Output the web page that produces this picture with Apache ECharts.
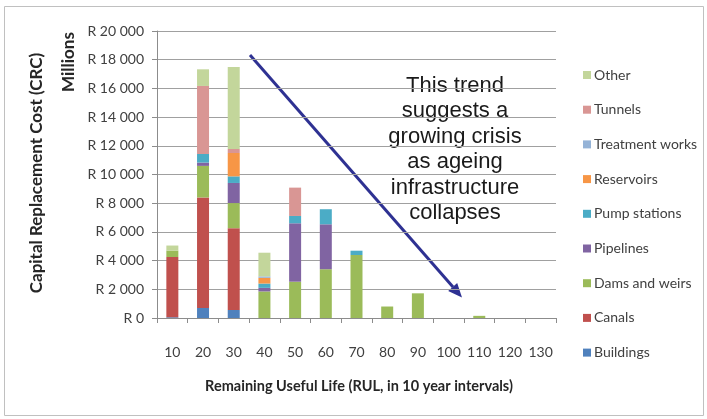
<!DOCTYPE html>
<html>
<head>
<meta charset="utf-8">
<script src="https://cdn.jsdelivr.net/npm/echarts@6/dist/echarts.min.js"></script>
<style>
html,body{margin:0;padding:0;background:#fff;}
#chart{width:707px;height:419px;}
</style>
</head>
<body>
<div id="chart"></div>
<script>
var categories = ['10','20','30','40','50','60','70','80','90','100','110','120','130'];
var buildings      = [50, 700, 560, 0, 0, 0, 0, 0, 0, 0, 0, 0, 0];
var canals         = [4200, 7700, 5700, 0, 0, 0, 0, 0, 0, 0, 0, 0, 0];
var damsAndWeirs   = [450, 2200, 1750, 1850, 2530, 3400, 4390, 800, 1720, 0, 150, 0, 0];
var pipelines      = [0, 230, 1400, 250, 4070, 3130, 0, 0, 0, 0, 0, 0, 0];
var pumpStations   = [0, 600, 460, 300, 510, 1050, 300, 0, 0, 0, 0, 0, 0];
var reservoirs     = [0, 0, 1630, 400, 0, 0, 0, 0, 0, 0, 0, 0, 0];
var treatmentWorks = [0, 0, 0, 100, 0, 0, 0, 0, 0, 0, 0, 0, 0];
var tunnels        = [0, 4740, 280, 0, 1975, 0, 0, 0, 0, 0, 0, 0, 0];
var other          = [350, 1160, 5715, 1650, 0, 0, 0, 0, 0, 0, 0, 0, 0];
var yTicks = [0, 2000, 4000, 6000, 8000, 10000, 12000, 14000, 16000, 18000, 20000];

var seriesDefs = [
  ['Buildings', buildings, '#4F81BD'],
  ['Canals', canals, '#C0504D'],
  ['Dams and weirs', damsAndWeirs, '#9BBB59'],
  ['Pipelines', pipelines, '#8064A2'],
  ['Pump stations', pumpStations, '#4BACC6'],
  ['Reservoirs', reservoirs, '#F79646'],
  ['Treatment works', treatmentWorks, '#95B3D7'],
  ['Tunnels', tunnels, '#D99694'],
  ['Other', other, '#C3D69B']
];

var FONT = 'Lato, "Open Sans", sans-serif';
var chart = echarts.init(document.getElementById('chart'), null, {renderer:'canvas'});

function fmt(v){
  var s = String(v);
  return 'R ' + s.replace(/\B(?=(\d{3})+(?!\d))/g, ' ');
}

var option = {
  animation: false,
  backgroundColor: '#ffffff',
  grid: {left: 157, right: 151, top: 31, bottom: 101, containLabel: false},
  legend: {
    orient: 'vertical',
    left: 578,
    top: 63,
    itemWidth: 8,
    itemHeight: 8,
    itemGap: 20.7,
    icon: 'rect',
    textStyle: {fontFamily: FONT, fontSize: 14, color: '#404040', padding: [0,0,0,-2]},
    data: seriesDefs.map(function(d){return d[0];}).reverse()
  },
  xAxis: {
    type: 'category',
    data: categories,
    axisLine: {lineStyle: {color: '#8c8c8c', width: 1}},
    axisTick: {show: true, interval: 0, length: 5, lineStyle: {color: '#8c8c8c'}},
    axisLabel: {interval: 0, fontFamily: FONT, fontSize: 14, color: '#404040', margin: 27}
  },
  yAxis: {
    type: 'value',
    min: 0, max: 20000, interval: 2000,
    axisLine: {show: true, lineStyle: {color: '#8c8c8c', width: 1}},
    axisTick: {show: true, length: 5, lineStyle: {color: '#8c8c8c'}},
    axisLabel: {fontFamily: FONT, fontSize: 14, color: '#404040', margin: 13, formatter: fmt},
    splitLine: {lineStyle: {color: '#a0a0a0', width: 1}}
  },
  series: seriesDefs.map(function(d){
    return {
      name: d[0], type: 'bar', stack: 'total', data: d[1],
      barWidth: 12,
      itemStyle: {color: d[2]}
    };
  }),
  graphic: [
    {type: 'rect', shape: {x: 4.5, y: 6.5, width: 699, height: 409}, style: {fill: 'none', stroke: '#c0c0c0', lineWidth: 1}, z: -1},
    {type: 'text', x: 37, y: 173, rotation: Math.PI/2, style: {text: 'Capital Replacement Cost (CRC)', fontFamily: FONT, fontWeight: 'bold', fontSize: 17, fill: '#262626', align: 'center', verticalAlign: 'middle'}},
    {type: 'text', x: 69, y: 62, rotation: Math.PI/2, style: {text: 'Millions', fontFamily: FONT, fontWeight: 'bold', fontSize: 17, fill: '#262626', align: 'center', verticalAlign: 'middle'}},
    {type: 'text', x: 359, y: 386, style: {text: 'Remaining Useful Life (RUL, in 10 year intervals)', fontFamily: FONT, fontWeight: 'bold', fontSize: 14.5, fill: '#262626', align: 'center', verticalAlign: 'middle'}},
    {type: 'text', x: 455, y: 73, style: {text: 'This trend\nsuggests a\ngrowing crisis\nas ageing\ninfrastructure\ncollapses', fontFamily: '"Liberation Sans", Arial, sans-serif', fontSize: 22, lineHeight: 25.5, fill: '#1a1a1a', align: 'center', verticalAlign: 'top'}},
    {type: 'line', shape: {x1: 250, y1: 55, x2: 453, y2: 287}, style: {stroke: '#2E3192', lineWidth: 3}},
    {type: 'polygon', shape: {points: [[462, 297.5], [448.2, 291], [457.2, 283]]}, style: {fill: '#2E3192'}}
  ]
};
chart.setOption(option);
</script>
</body>
</html>
